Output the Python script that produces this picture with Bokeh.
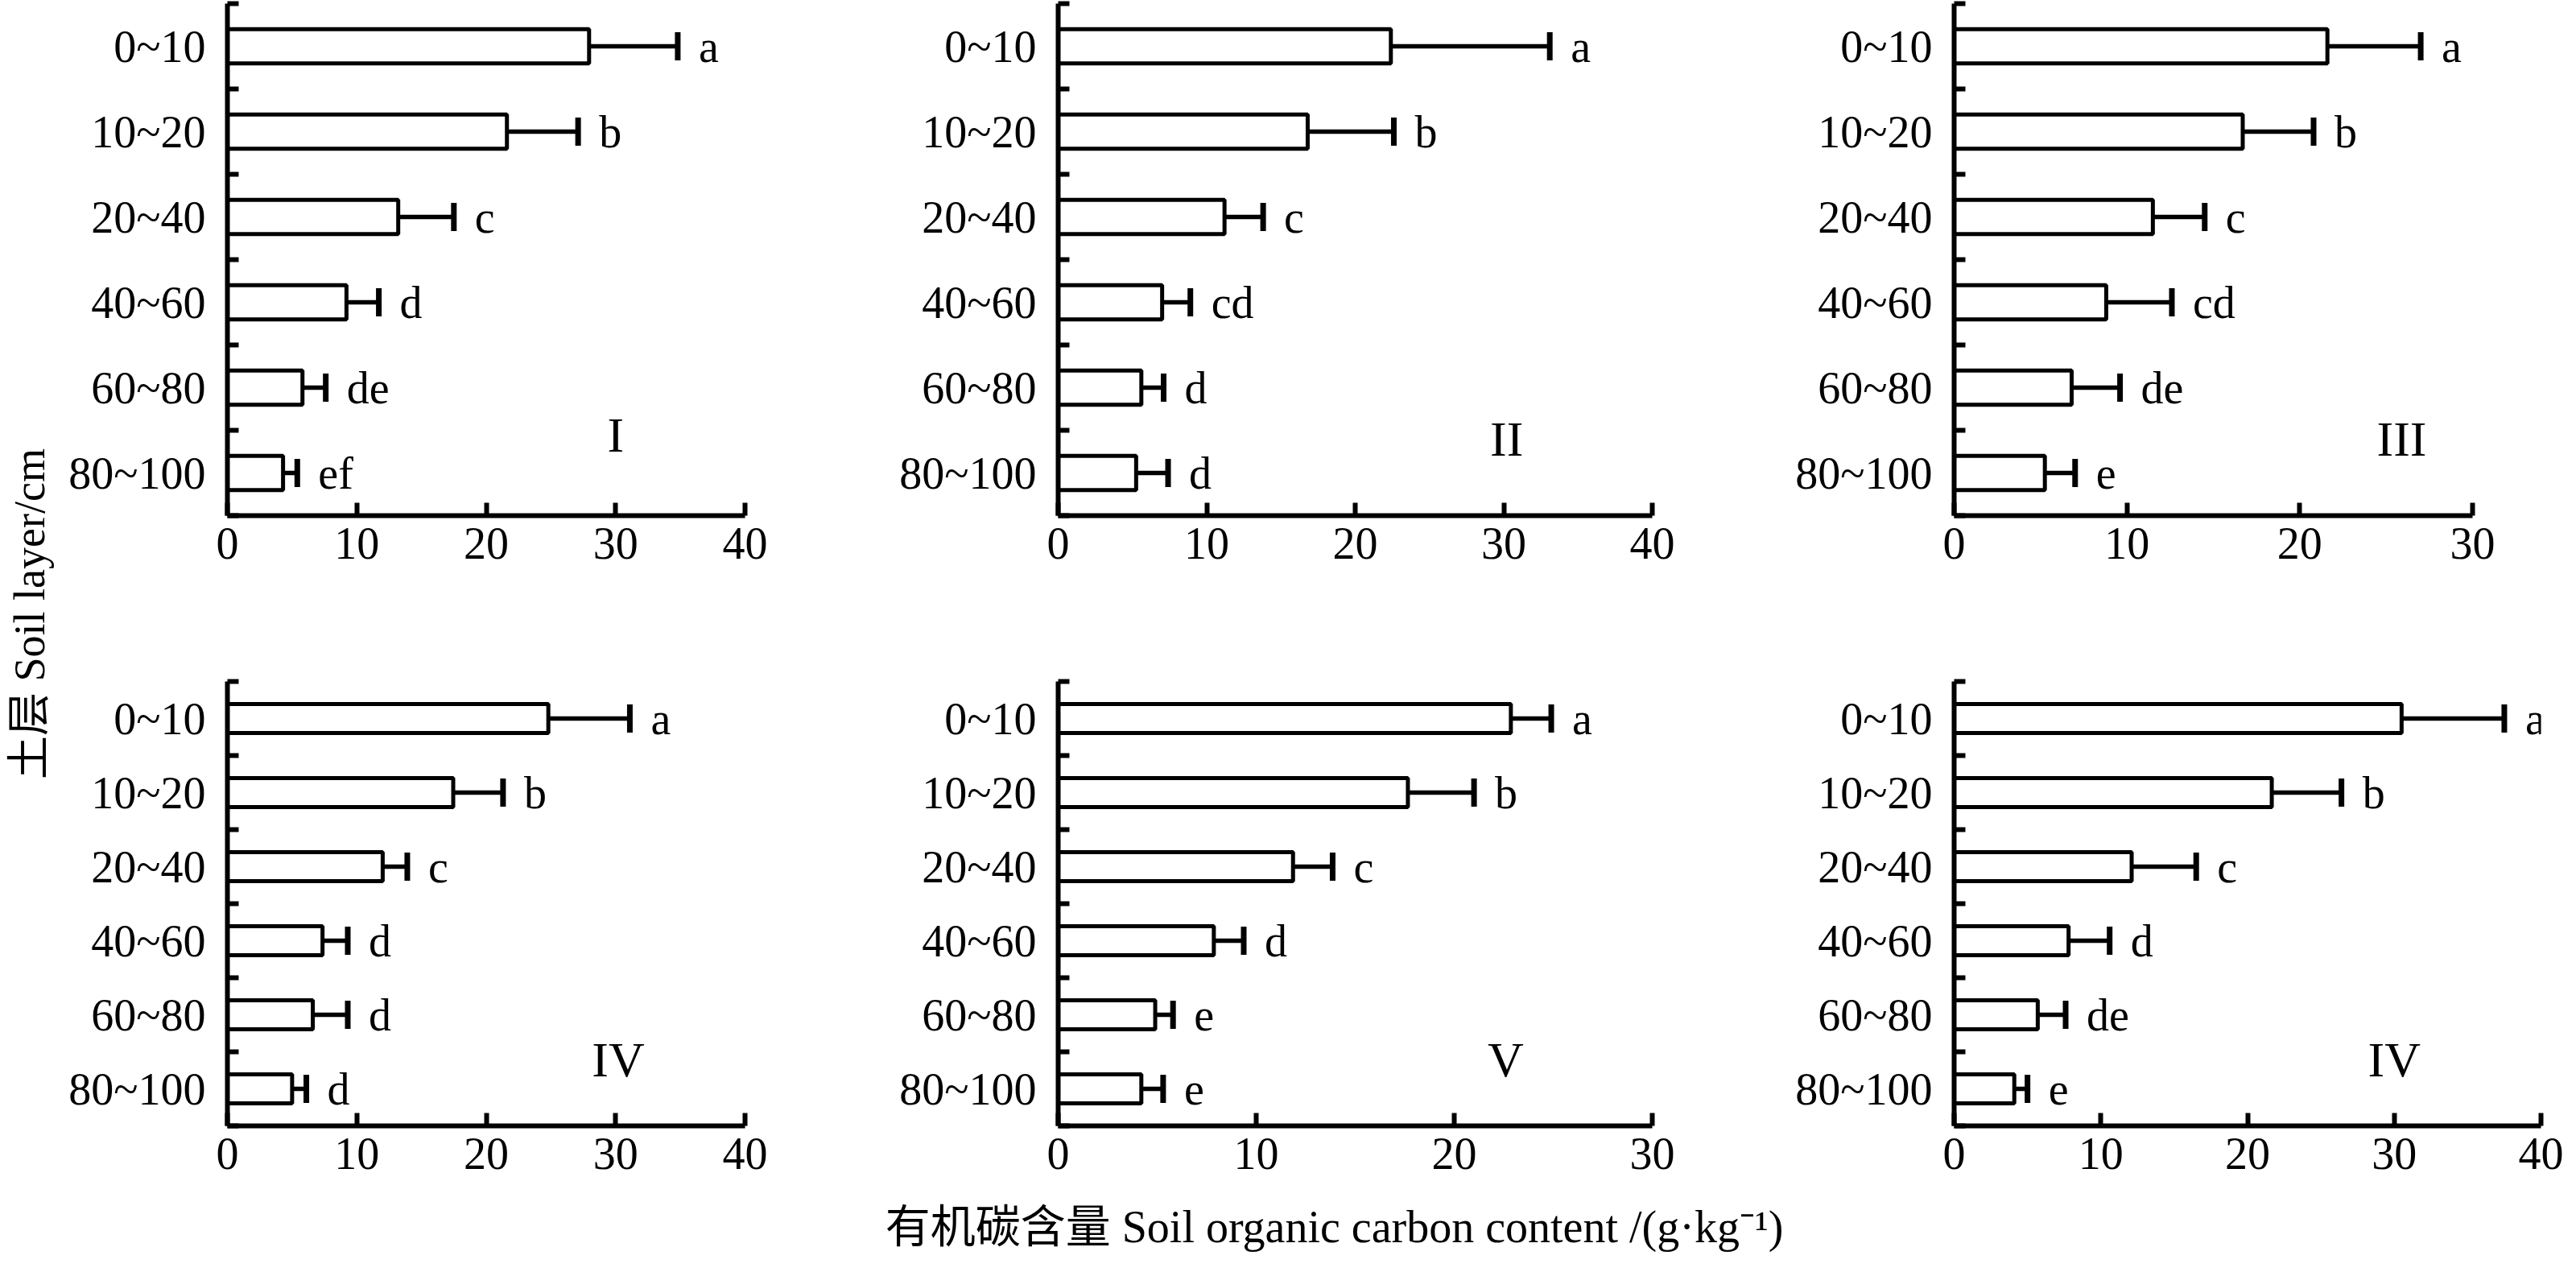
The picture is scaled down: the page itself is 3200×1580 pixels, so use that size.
import math
from bokeh.plotting import figure
from bokeh.models import Range1d, FixedTicker, LabelSet, Label, ColumnDataSource
from bokeh.layouts import row, column
from bokeh.embed import file_html
from bokeh.resources import INLINE
from bokeh.core.properties import value

# ---------------- data ----------------
layers = ["0~10", "10~20", "20~40", "40~60", "60~80", "80~100"]

mean_I = [27.95, 21.6, 13.2, 9.2, 5.8, 4.3]
err_I = [6.85, 5.5, 4.3, 2.5, 1.8, 1.1]
sig_I = ["a", "b", "c", "d", "de", "ef"]

mean_II = [22.4, 16.8, 11.2, 7.0, 5.6, 5.25]
err_II = [10.7, 5.8, 2.6, 1.9, 1.5, 2.15]
sig_II = ["a", "b", "c", "cd", "d", "d"]

mean_III = [21.6, 16.7, 11.5, 8.8, 6.8, 5.25]
err_III = [5.4, 4.1, 3.0, 3.8, 2.8, 1.75]
sig_III = ["a", "b", "c", "cd", "de", "e"]

mean_IV = [24.8, 17.45, 12.0, 7.35, 6.6, 5.0]
err_IV = [6.3, 3.85, 1.9, 1.95, 2.7, 1.1]
sig_IV = ["a", "b", "c", "d", "d", "d"]

mean_V = [22.86, 17.66, 11.86, 7.86, 4.9, 4.2]
err_V = [2.04, 3.34, 2.0, 1.51, 0.9, 1.1]
sig_V = ["a", "b", "c", "d", "e", "e"]

mean_VI = [30.5, 21.65, 12.1, 7.8, 5.7, 4.1]
err_VI = [7.0, 4.75, 4.4, 2.8, 1.9, 0.9]
sig_VI = ["a", "b", "c", "d", "de", "e"]

panel_names = ["I", "II", "III", "IV", "V", "IV"]
x_max = [40, 40, 30, 40, 30, 40]
x_ticks_40 = [0, 10, 20, 30, 40]
x_ticks_30 = [0, 10, 20, 30]

x_title = "有机碳含量 Soil organic carbon content /(g·kg⁻¹)"
y_title = "土层 Soil layer/cm"

# ---------------- style ----------------
FONT = "Liberation Serif"
CJK_FONT = "Liberation Serif, Noto Sans CJK SC"
TICK_FS = "56px"


def make_panel(mean, err, sig, name, xmax, name_pos, bar_h, width, height, bl, br, bt, bb):
    p = figure(width=width, height=height,
               x_range=Range1d(0, xmax), y_range=Range1d(5.5, -0.5),
               output_backend="svg", toolbar_location=None,
               min_border_left=bl, min_border_right=br,
               min_border_top=bt, min_border_bottom=bb)
    y = list(range(len(layers)))
    ends = [m + e for m, e in zip(mean, err)]
    src = ColumnDataSource(dict(y=y, mean=mean, ends=ends, sig=sig))

    p.segment(x0="mean", y0="y", x1="ends", y1="y", source=src,
              line_color="black", line_width=5.5)
    p.hbar(y="y", left=0, right="mean", height=bar_h, source=src,
           fill_color="white", line_color="black", line_width=5)
    p.rect(x="ends", y="y", width=7, height=35, width_units="screen",
           height_units="screen", source=src, fill_color="black", line_color=None)

    labels = LabelSet(x="ends", y="y", text="sig", source=src, x_offset=26,
                      text_align="left", text_baseline="middle",
                      text_font=value(FONT), text_font_size=TICK_FS,
                      text_color="black")
    p.add_layout(labels)

    p.add_layout(Label(x=name_pos[0], y=name_pos[1], text=name,
                       text_align="center", text_baseline="middle",
                       text_font=FONT, text_font_size="62px", text_color="black"))

    p.xgrid.visible = False
    p.ygrid.visible = False
    p.outline_line_color = None
    p.background_fill_color = "white"
    p.border_fill_color = "white"

    xa = p.xaxis[0]
    xa.ticker = FixedTicker(ticks=x_ticks_40 if xmax == 40 else x_ticks_30)
    xa.axis_line_width = 6
    xa.axis_line_color = "black"
    xa.major_tick_in = 16
    xa.major_tick_out = 0
    xa.major_tick_line_width = 6
    xa.minor_tick_line_color = None
    xa.major_label_text_font = FONT
    xa.major_label_text_font_size = TICK_FS
    xa.major_label_text_color = "black"
    xa.major_label_standoff = 15

    ya = p.yaxis[0]
    ya.ticker = FixedTicker(ticks=y, minor_ticks=[i - 0.5 for i in range(len(layers) + 1)])
    ya.major_label_overrides = {i: lab for i, lab in enumerate(layers)}
    ya.axis_line_width = 6
    ya.axis_line_color = "black"
    ya.major_tick_in = 0
    ya.major_tick_out = 0
    ya.major_tick_line_color = None
    ya.minor_tick_in = 14
    ya.minor_tick_out = 0
    ya.minor_tick_line_width = 6
    ya.minor_tick_line_color = "black"
    ya.major_label_text_font = FONT
    ya.major_label_text_font_size = TICK_FS
    ya.major_label_text_color = "black"
    ya.major_label_standoff = 27
    return p


TOP_H, BOT_H, TITLE_H = 780, 708, 76
LEFT_W = 72
TOTAL_H = TOP_H + BOT_H + TITLE_H

p1 = make_panel(mean_I, err_I, sig_I, panel_names[0], x_max[0], (30.0, 4.55), 0.40,
                988, TOP_H, 210, 135, 4, 140)
p2 = make_panel(mean_II, err_II, sig_II, panel_names[1], x_max[1], (30.2, 4.6), 0.40,
                1140, TOP_H, 254, 148, 4, 140)
p3 = make_panel(mean_III, err_III, sig_III, panel_names[2], x_max[2], (25.9, 4.6), 0.40,
                984, TOP_H, 227, 113, 4, 140)
p4 = make_panel(mean_IV, err_IV, sig_IV, panel_names[3], x_max[3], (30.2, 4.6), 0.39,
                988, BOT_H, 210, 135, 66, 90)
p5 = make_panel(mean_V, err_V, sig_V, panel_names[4], x_max[4], (22.6, 4.6), 0.39,
                1140, BOT_H, 254, 148, 66, 90)
p6 = make_panel(mean_VI, err_VI, sig_VI, panel_names[5], x_max[5], (30.0, 4.6), 0.39,
                984, BOT_H, 227, 28, 66, 90)

# left strip: y-axis title
pl = figure(width=LEFT_W, height=TOTAL_H, x_range=Range1d(0, LEFT_W),
            y_range=Range1d(TOTAL_H, 0), output_backend="svg",
            toolbar_location=None, x_axis_type=None, y_axis_type=None,
            min_border=0)
pl.outline_line_color = None
pl.xgrid.visible = False
pl.ygrid.visible = False
pl.text(x=[36], y=[762], text=[y_title], angle=math.pi / 2,
        text_align="center", text_baseline="middle",
        text_font=value(CJK_FONT), text_font_size="54px", text_color="black")

# bottom strip: x-axis title
BW = 3184 - LEFT_W
pb = figure(width=BW, height=TITLE_H, x_range=Range1d(0, BW),
            y_range=Range1d(TITLE_H, 0), output_backend="svg",
            toolbar_location=None, x_axis_type=None, y_axis_type=None,
            min_border=0)
pb.outline_line_color = None
pb.xgrid.visible = False
pb.ygrid.visible = False
pb.text(x=[1657 - LEFT_W], y=[35], text=[x_title],
        text_align="center", text_baseline="middle",
        text_font=value(CJK_FONT), text_font_size="56px", text_color="black")

layout = row(pl, column(row(p1, p2, p3), row(p4, p5, p6), pb))

open("out.html", "w").write(file_html(layout, INLINE))
